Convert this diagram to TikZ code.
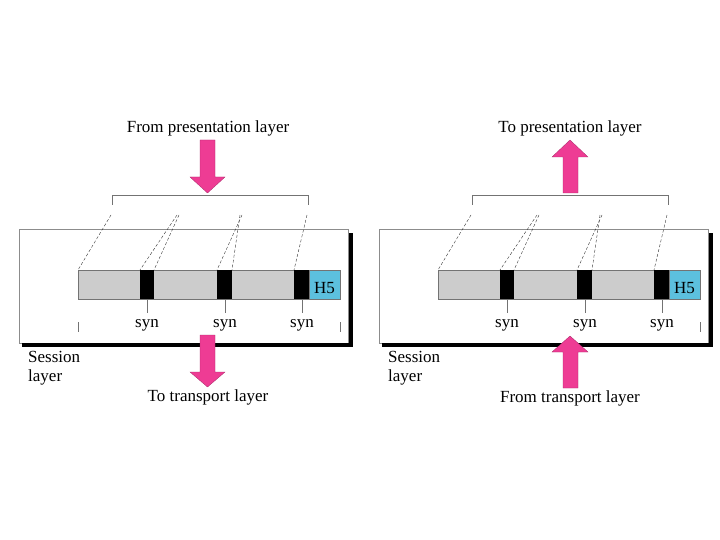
\documentclass[tikz,border=0pt]{standalone}
\usepackage{fontspec}
\setmainfont{Liberation Serif}
\usetikzlibrary{positioning}
\definecolor{pinkarrow}{RGB}{238,60,148}
\definecolor{hcyan}{RGB}{92,192,222}
\definecolor{bargray}{RGB}{204,204,204}

\begin{document}
\begin{tikzpicture}[
    x=1pt, y=-1pt,
    lbl/.style={font=\fontsize{17}{19}\selectfont, inner sep=0pt},
    seg/.style={fill=bargray, draw=black!55, line width=0.5pt},
    synbox/.style={fill=black},
    guide/.style={draw=black!80, line width=0.4pt, dash pattern=on 3pt off 2pt},
    tick/.style={draw=black!55, line width=0.6pt},
    frame/.style={draw=black!45, line width=0.6pt},
    shadow/.style={draw=black, line width=3.5pt},
    bigarrow/.style={fill=pinkarrow, draw=pinkarrow!70!black, line width=0.3pt}
]
\useasboundingbox (0,0) rectangle (720,540);

% Session layer panels
\foreach \dx/\side in {0/l,360/r} {
  \begin{scope}[xshift=\dx]
    \draw[frame] (19,229) rectangle (348,343);
    \draw[shadow] (22,345) -- (351,345) -- (351,233);
    % bracket and dashed guides
    \draw[tick] (112,205) -- (112,195) -- (308,195) -- (308,205);
    \draw[guide] (111,215) -- (78,270);
    \draw[guide] (177,215) -- (140,270);
    \draw[guide] (179,215) -- (154,270);
    \draw[guide] (242,215) -- (217,270);
    \draw[guide] (240,215) -- (232,270);
    \draw[guide] (307,215) -- (294,270);
    % data bar
    \draw[seg] (78,270) rectangle (340,299);
    \fill[synbox] (140,270) rectangle (154,299);
    \fill[synbox] (217,270) rectangle (232,299);
    \fill[synbox] (294,270) rectangle (309,299);
    \draw[seg, fill=hcyan] (309,270) rectangle (340,299);
    \node[lbl, anchor=base] (h5\side) at (324.5,293) {H5};
    % syn marks
    \foreach \sx [count=\i] in {147,225,302} {
      \draw[tick] (\sx,299) -- (\sx,313);
      \node[lbl, anchor=base] (syn\i\side) at (\sx,327) {syn};
    }
    \draw[tick] (340,322) -- (340,332);
    \node[lbl, align=left, anchor=north west] (sess\side) at (28,351) {Session\\layer};
  \end{scope}
}
\draw[tick] (78,322) -- (78,332);

% Arrows
\draw[bigarrow] (200,140) -- (215,140) -- (215,177) -- (225,177) -- (207.5,193)
  -- (190,177) -- (200,177) -- cycle;
\draw[bigarrow] (200,335) -- (215,335) -- (215,372) -- (225,372) -- (207.5,387)
  -- (190,372) -- (200,372) -- cycle;
\draw[bigarrow] (563,193) -- (578,193) -- (578,157) -- (588,157) -- (570,140)
  -- (552,157) -- (563,157) -- cycle;
\draw[bigarrow] (563,388) -- (578,388) -- (578,352) -- (588,352) -- (570,336)
  -- (552,352) -- (563,352) -- cycle;

% Texts
\node[lbl, anchor=base] (frompres) at (208,133) {From presentation layer};
\node[lbl, anchor=base] (totrans) at (208,401) {To transport layer};
\node[lbl, anchor=base] (topres) at (570,133) {To presentation layer};
\node[lbl, anchor=base] (fromtrans) at (570,402) {From transport layer};

\end{tikzpicture}
\end{document}
